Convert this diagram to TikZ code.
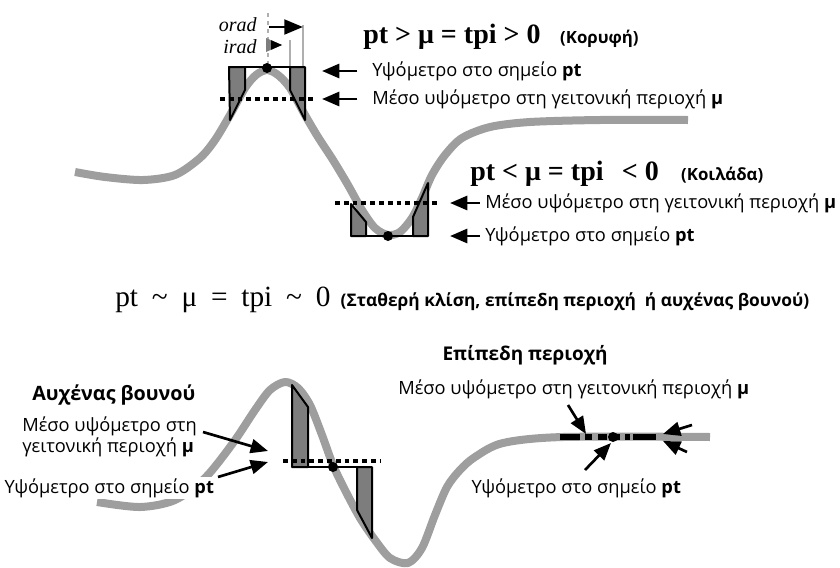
\documentclass[tikz,border=0pt]{standalone}
\usepackage{fontspec}
\setmainfont{Liberation Serif}
\setsansfont{Open Sans}
\usetikzlibrary{arrows.meta}

\definecolor{terraingray}{RGB}{158,158,158}
\definecolor{blockgray}{RGB}{125,125,125}
\definecolor{guidegray}{RGB}{175,175,175}

\newcommand{\lblfont}{\sffamily\fontsize{13.7}{11.5}\selectfont}
\newcommand{\eqfont}{\rmfamily\bfseries\fontsize{21}{22}\selectfont}
\newcommand{\hdfont}{\sffamily\bfseries\fontsize{12.6}{14}\selectfont}
\newcommand{\eqgap}{\hspace{0.47em}}

\begin{document}
\begin{tikzpicture}[x=0.75pt, y=-0.75pt, line join=round,
    terrain/.style={line width=6pt, terraingray},
    block/.style={draw, fill=blockgray, line width=1.5pt},
    level/.style={line width=1.8pt},
    meanline/.style={line width=3pt, dash pattern=on 3.6pt off 3pt},
    guide/.style={guidegray, line width=1.2pt},
    pointer/.style={-{Triangle[length=13pt,width=10.5pt]}, line width=2.2pt},
    lbl/.style={font=\lblfont, inner sep=0pt, anchor=west},
    dot/.style={circle, fill, inner sep=0pt, minimum size=7.5pt}]
    \useasboundingbox (0,0) rectangle (840,568);

    % Terrain profiles
    \draw[terrain] plot[smooth] coordinates {(75,172) (105,177) (143,180) (175,175) (200,158)
        (215,140) (230,115) (245,88) (256,75) (267,70) (278,75) (290,88) (305,115) (318,137)
        (333,160) (348,185) (362,210) (375,228) (388,235) (400,232) (412,218) (422,198)
        (432,175) (445,155) (462,138) (490,127) (530,122) (600,120) (688,120)};
    \draw[terrain] plot[smooth] coordinates {(97,502) (140,507) (175,500) (205,478) (233,443)
        (255,410) (270,390) (285,382) (298,388) (310,405) (322,435) (333,465) (345,490)
        (360,518) (375,540) (390,558) (408,563) (422,548) (435,515) (447,487) (460,470)
        (475,457) (503,443) (563,437) (710,437)};

    % Peak: pt > mu
    \draw[guide, dashed] (268,13) -- (268,64);
    \draw[guide] (290,40) -- (290,67);
    \draw[guide] (303,25) -- (303,67);
    \draw[block] (229,67) -- (245,67) -- (245,90) -- (230,120) -- cycle;
    \draw[block] (290,67) -- (305,67) -- (305,120) -- (290,90) -- cycle;
    \draw[level] (229,67) -- (305,67);
    \draw[meanline] (220,99) -- (316,99);
    \node[dot] (pkpeak) at (267,68) {};

    % orad / irad
    \node[font=\rmfamily\itshape\fontsize{15}{15}\selectfont, anchor=east, inner sep=0pt] (orad) at (257,25) {orad};
    \node[font=\rmfamily\itshape\fontsize{15}{15}\selectfont, anchor=east, inner sep=0pt] (irad) at (257,47) {irad};
    \coordinate (oradA) at (269,27);
    \coordinate (oradB) at (303,27);
    \draw[-{Triangle[length=14pt,width=11pt]}, line width=2.2pt] (oradA) -- (oradB);
    \fill[blockgray] (266,38) -- (282,45) -- (266,52) -- cycle;
    \fill (271,40.2) -- (282,45) -- (271,49.8) -- cycle;

    \node[font=\eqfont, anchor=west, inner sep=0pt] (eqpeak) at (363,37)
        {pt > μ = tpi > 0\hspace{0.7em}{\hdfont(Κορυφή)}};
    \node[lbl] (peakpt) at (372,71) {Υψόμετρο στο σημείο \textbf{pt}};
    \node[lbl] (peakmu) at (372,99) {Μέσο υψόμετρο στη γειτονική περιοχή \textbf{μ}};
    \coordinate (peakptA) at (322,71);
    \coordinate (peakmuA) at (322,99);
    \draw[pointer, shorten <=11pt] (peakpt.west) -- (peakptA);
    \draw[pointer, shorten <=11pt] (peakmu.west) -- (peakmuA);

    % Valley: pt < mu
    \draw[block] (351,204) -- (366,222) -- (366,236) -- (351,236) -- cycle;
    \draw[block] (413,236) -- (413,217) -- (428,183) -- (428,236) -- cycle;
    \draw[level] (351,236) -- (428,236);
    \draw[meanline] (335,203) -- (439,203);
    \node[dot] (pkvalley) at (388,236) {};

    \node[font=\eqfont, anchor=west, inner sep=0pt] (eqvalley) at (470,174)
        {pt < μ = tpi\hspace{0.4em} < 0\hspace{0.8em}{\hdfont(Κοιλάδα)}};
    \node[lbl] (valleymu) at (485,203) {Μέσο υψόμετρο στη γειτονική περιοχή \textbf{μ}};
    \node[lbl] (valleypt) at (485,236) {Υψόμετρο στο σημείο \textbf{pt}};
    \coordinate (valleymuA) at (450,203);
    \coordinate (valleyptA) at (450,236);
    \draw[pointer, shorten <=4pt] (valleymu.west) -- (valleymuA);
    \draw[pointer, shorten <=4pt] (valleypt.west) -- (valleyptA);

    % pt ~ mu
    \node[font=\rmfamily\fontsize{22}{22}\selectfont, anchor=west, inner sep=0pt] (eqflat) at (115,300)
        {pt\eqgap\textasciitilde\eqgap μ\eqgap=\eqgap tpi\eqgap\textasciitilde\eqgap 0\hspace{0.35em}{\hdfont\fontsize{13}{14}\selectfont(Σταθερή κλίση, επίπεδη περιοχή\ \ ή αυχένας βουνού)}};

    % Saddle (neck)
    \draw[block] (292,385) -- (308,407) -- (308,467) -- (292,467) -- cycle;
    \draw[block] (357,467) -- (372,467) -- (372,538) -- (357,510) -- cycle;
    \draw[level] (292,467) -- (372,467);
    \draw[meanline] (283,461) -- (381,461);
    \node[dot] (pkneck) at (333,467) {};

    \node[font=\hdfont\fontsize{14.8}{15}\selectfont, anchor=west, inner sep=0pt] (neckhd) at (32,395) {Αυχένας βουνού};
    \node[lbl, align=left] (neckmu) at (22,437) {Μέσο υψόμετρο στη\\γειτονική περιοχή \textbf{μ}};
    \node[lbl, fill=white, inner sep=1pt] (neckpt) at (3,488) {Υψόμετρο στο σημείο \textbf{pt}};
    \coordinate (neckmuA) at (203,432);
    \coordinate (neckmuB) at (268,451);
    \coordinate (neckptA) at (218,477);
    \coordinate (neckptB) at (268,462);
    \draw[pointer, line width=2pt] (neckmuA) -- (neckmuB);
    \draw[pointer, line width=2pt] (neckptA) -- (neckptB);

    % Flat area
    \draw[line width=4pt, dash pattern=on 15pt off 3.75pt on 5.25pt off 4.5pt on 6.75pt off 4.5pt on 5.25pt off 3.75pt on 3.75pt off 2.25pt on 17pt]
        (560,437) -- (663,437);
    \node[dot] (pkflat) at (613,437) {};

    \node[font=\hdfont\fontsize{14.2}{15}\selectfont, inner sep=0pt] (flathd) at (525,355) {Επίπεδη περιοχή};
    \node[lbl] (flatmu) at (398,389) {Μέσο υψόμετρο στη γειτονική περιοχή \textbf{μ}};
    \node[lbl, fill=white, inner sep=1pt] (flatpt) at (470,488) {Υψόμετρο στο σημείο \textbf{pt}};
    \coordinate (flatmuA) at (568,405);
    \coordinate (flatmuB) at (586,434);
    \coordinate (flatptA) at (585,470);
    \coordinate (flatptB) at (611,443);
    \coordinate (flatrA) at (692,425);
    \coordinate (flatrB) at (663,434);
    \coordinate (flatrC) at (687,452);
    \coordinate (flatrD) at (663,441);
    \draw[pointer, line width=2pt] (flatmuA) -- (flatmuB);
    \draw[pointer, line width=2pt] (flatptA) -- (flatptB);
    \draw[pointer, line width=2pt] (flatrA) -- (flatrB);
    \draw[pointer, line width=2pt] (flatrC) -- (flatrD);
\end{tikzpicture}
\end{document}
